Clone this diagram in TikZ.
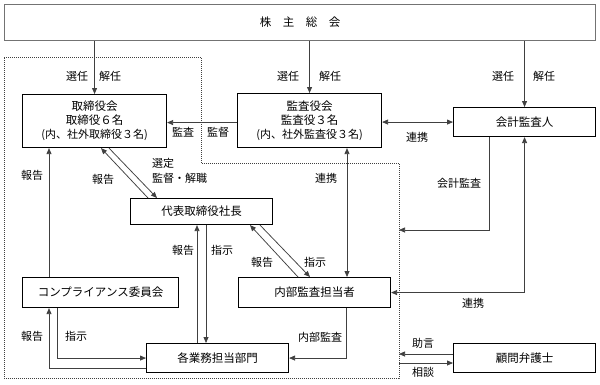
\documentclass[tikz,border=0pt]{standalone}
\usepackage{fontspec}
\setmainfont{Noto Sans CJK JP}
\usetikzlibrary{arrows.meta,calc}
\begin{document}
\begin{tikzpicture}[x=1pt,y=-1pt,
  box/.style={draw=black,line width=1.1pt,anchor=north west,inner sep=0pt,align=center,font=\fontsize{11.5}{14}\selectfont},
  con/.style={draw=black!75,line width=0.75pt},
  arr/.style={con,-{Triangle[length=6pt,width=5pt]}},
  barr/.style={con,{Triangle[length=6pt,width=5pt]}-{Triangle[length=6pt,width=5pt]}},
  lbl/.style={font=\fontsize{11}{12}\selectfont,inner sep=0pt},
  dotline/.style={draw=black!75,line width=0.7pt,dash pattern=on 0.8pt off 1.2pt}
]
\useasboundingbox (0,0) rectangle (600,384);

% dotted region
\draw[dotline] (4,57) -- (201,57) -- (201,163) -- (399,163) -- (399,378) -- (4,378) -- cycle;

% boxes
\node[box,draw=black!55,line width=1.2pt,minimum width=591pt,minimum height=36pt] (sh) at (4,4) {株　主　総　会};
\node[box,minimum width=144pt,minimum height=53pt] (tb) at (22,94) {取締役会\\取締役６名\\{\fontsize{11}{14}\selectfont (内、社外取締役３名)}};
\node[box,minimum width=144pt,minimum height=54pt] (ka) at (237,93) {監査役会\\監査役３名\\{\fontsize{11}{14}\selectfont (内、社外監査役３名)}};
\node[box,minimum width=142pt,minimum height=29pt] (ai) at (453,107) {会計監査人};
\node[box,minimum width=142pt,minimum height=26pt] (ceo) at (130,198) {代表取締役社長};
\node[box,minimum width=156pt,minimum height=30pt] (cp) at (22,277) {コンプライアンス委員会};
\node[box,minimum width=152pt,minimum height=30pt] (ia) at (238,277) {内部監査担当者};
\node[box,minimum width=142pt,minimum height=29pt] (dep) at (146,343) {各業務担当部門};
\node[box,minimum width=142pt,minimum height=29pt] (law) at (453,343) {顧問弁護士};

% free-end coordinates on the dotted boundary
\coordinate (acE) at (399,230);
\coordinate (advE) at (399,354);
\coordinate (conE) at (399,363);

% shareholders
\draw[arr] (sh.south -| tb.north) -- (tb.north);
\draw[arr] (sh.south -| ka.north) -- (ka.north);
\draw[arr] (sh.south -| ai.north) -- (ai.north);

% audit board -> board
\draw[arr] ([yshift=-2pt]ka.west) -- ([yshift=-2pt]ka.west -| tb.east);
% audit board <-> accounting auditor
\draw[barr] (ka.east |- ai.west) -- (ai.west);

% board <-> ceo
\draw[arr] ([xshift=18pt]ceo.north west) -- ([xshift=79pt]tb.south west);
\draw[arr] ([xshift=87pt]tb.south west) -- ([xshift=27pt]ceo.north west);

% compliance -> board
\draw[arr] ([xshift=27pt]cp.north west) -- ([xshift=27pt]cp.north west |- tb.south);

% ceo <-> departments
\draw[arr] ([xshift=67pt]ceo.south west |- dep.north) -- ([xshift=67pt]ceo.south west);
\draw[arr] ([xshift=76pt]ceo.south west) -- ([xshift=76pt]ceo.south west |- dep.north);

% ceo <-> internal audit
\draw[arr] ([xshift=60pt]ia.north west) -- ([xshift=120pt]ceo.south west);
\draw[arr] ([xshift=130pt]ceo.south west) -- ([xshift=72pt]ia.north west);

% audit board <-> internal audit
\draw[barr] ([xshift=110pt]ka.south west) -- ([xshift=110pt]ka.south west |- ia.north);

% accounting audit
\draw[arr] ([xshift=36pt]ai.south west) |- (acE);
% internal audit <-> accounting auditor
\draw[barr] (ai.south) |- (ia.east);
% internal audit -> departments
\draw[arr] ([xshift=108pt]ia.south west) |- (dep.east);

% compliance <-> departments
\draw[arr] ([xshift=35pt]cp.south west) |- (dep.west);
\draw[arr] ([yshift=-10pt]dep.west) -| ([xshift=27pt]cp.south west);

% lawyer
\draw[arr] (law.west |- advE) -- (advE);
\draw[arr] (conE) -- (law.west |- conE);

% labels
\node[lbl] (l1) at (77,76) {選任};
\node[lbl] (l2) at (110,76) {解任};
\node[lbl] (l3) at (288,76) {選任};
\node[lbl] (l4) at (330,76) {解任};
\node[lbl] (l5) at (503,76) {選任};
\node[lbl] (l6) at (544,76) {解任};
\node[lbl] (l7) at (183,132) {監査};
\node[lbl] (l8) at (218,132) {監督};
\node[lbl] (l9) at (417,137) {連携};
\node[lbl] (l10) at (103,179) {報告};
\node[lbl,anchor=west] (l11) at (152,163) {選定};
\node[lbl,anchor=west] (l12) at (152,178) {監督・解職};
\node[lbl] (l13) at (32,175) {報告};
\node[lbl] (l14) at (183,250) {報告};
\node[lbl] (l15) at (222,250) {指示};
\node[lbl] (l16) at (262,262) {報告};
\node[lbl] (l17) at (315,262) {指示};
\node[lbl] (l18) at (326,178) {連携};
\node[lbl] (l19) at (459,183) {会計監査};
\node[lbl] (l20) at (473,303) {連携};
\node[lbl] (l21) at (320,337) {内部監査};
\node[lbl] (l22) at (32,336) {報告};
\node[lbl] (l23) at (76,336) {指示};
\node[lbl] (l24) at (423,343) {助言};
\node[lbl] (l25) at (423,372) {相談};
\end{tikzpicture}
\end{document}
